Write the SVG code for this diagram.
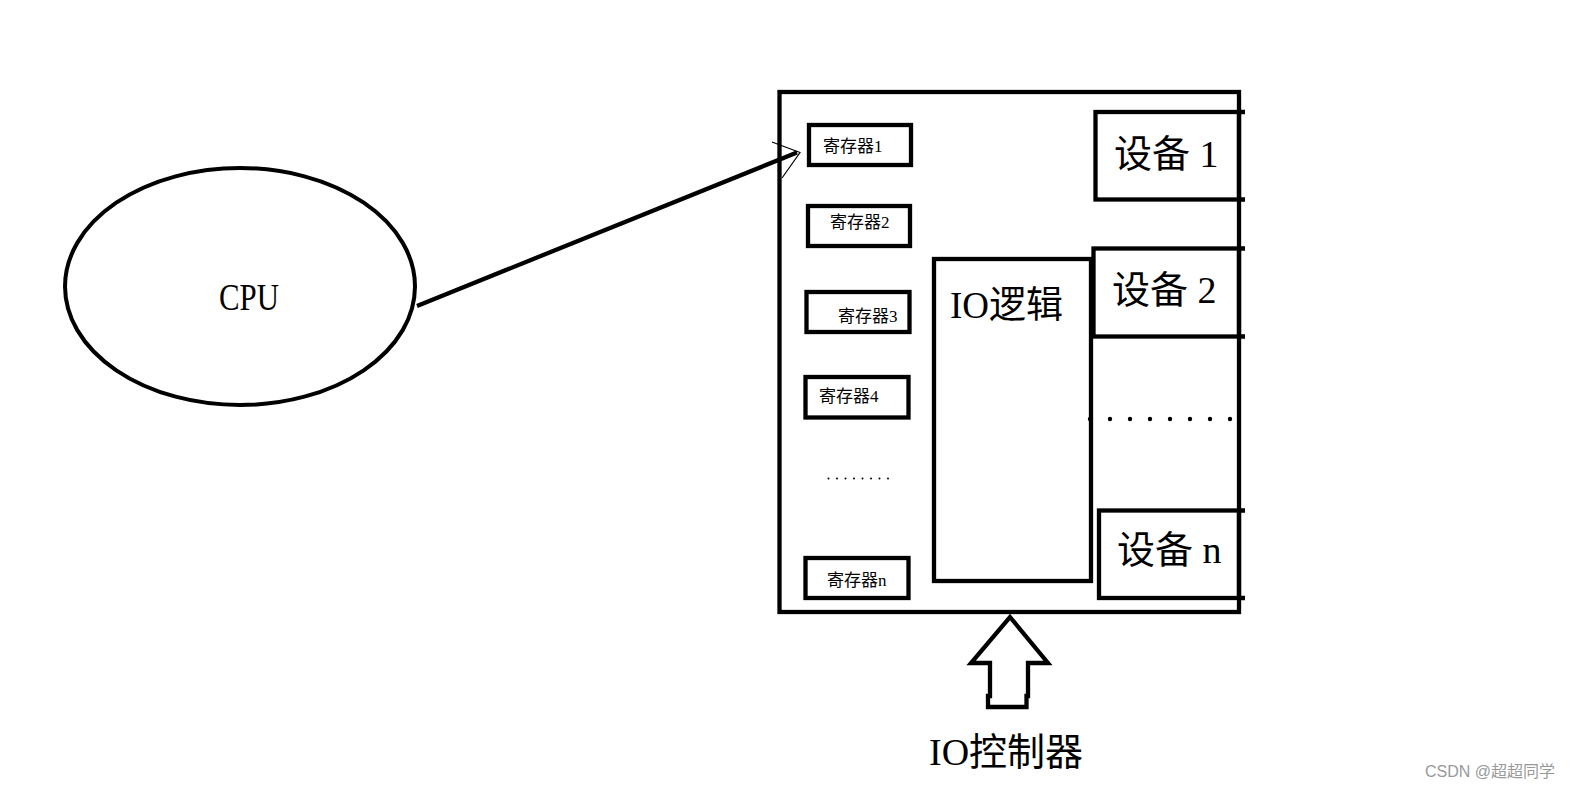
<svg xmlns="http://www.w3.org/2000/svg" width="1576" height="790" viewBox="0 0 1576 790">
<style>
.box{fill:none;stroke:#000;stroke-width:4.3}
.t{font-family:"Liberation Serif","Noto Sans CJK SC",serif;fill:#000}
.reg{font-size:17px}
.dev{font-size:38px}
.big{font-size:37px}
.wm{font-family:"Liberation Sans","Noto Sans CJK SC",sans-serif;font-size:16px;fill:#999}
</style>
<rect width="1576" height="790" fill="#fff"/>
<g id="cpu">
<ellipse cx="240" cy="286.5" rx="175" ry="118.5" fill="none" stroke="#000" stroke-width="4"/>
<text class="t" x="219" y="310" font-size="38" textLength="60" lengthAdjust="spacingAndGlyphs">CPU</text>
</g>
<g id="io-controller">
<rect class="box" x="779.5" y="92" width="459.5" height="520"/>
</g>
<g id="reg1"><rect class="box" x="809" y="125" width="102" height="40"/><text class="t reg" x="823" y="152">寄存器1</text></g>
<g id="reg2"><rect class="box" x="808" y="206" width="102" height="40"/><text class="t reg" x="830" y="228">寄存器2</text></g>
<g id="reg3"><rect class="box" x="806.5" y="292" width="103" height="40"/><text class="t reg" x="838" y="321.5">寄存器3</text></g>
<g id="reg4"><rect class="box" x="805.5" y="377" width="103" height="40.5"/><text class="t reg" x="819" y="402">寄存器4</text></g>
<g id="reg-dots" fill="#000">
<circle cx="828.5" cy="478.5" r="1"/><circle cx="837" cy="478.5" r="1"/><circle cx="845.5" cy="478.5" r="1"/><circle cx="854" cy="478.5" r="1"/><circle cx="862.5" cy="478.5" r="1"/><circle cx="871" cy="478.5" r="1"/><circle cx="879.5" cy="478.5" r="1"/><circle cx="888" cy="478.5" r="1"/>
</g>
<g id="regn"><rect class="box" x="805.5" y="558" width="103" height="40"/><text class="t reg" x="827" y="585.5">寄存器n</text></g>
<g id="io-logic"><rect class="box" x="934" y="259" width="157" height="322"/><text class="t big" x="950" y="318">IO逻辑</text></g>
<g id="dev1">
<rect class="box" x="1095.5" y="112" width="143.5" height="87.5"/>
<path class="box" d="M1239 112H1245M1239 199.5H1245"/>
<text class="t dev" x="1114" y="166.5">设备 1</text>
</g>
<g id="dev2">
<rect class="box" x="1093.5" y="248.5" width="145.5" height="88"/>
<path class="box" d="M1239 248.5H1245M1239 336.5H1245"/>
<text class="t dev" x="1112" y="303">设备 2</text>
</g>
<g id="dev-dots" fill="#000">
<circle cx="1090" cy="419" r="2.2"/><circle cx="1110" cy="419" r="2.2"/><circle cx="1130" cy="419" r="2.2"/><circle cx="1150" cy="419" r="2.2"/><circle cx="1170" cy="419" r="2.2"/><circle cx="1190" cy="419" r="2.2"/><circle cx="1210" cy="419" r="2.2"/><circle cx="1230" cy="419" r="2.2"/>
</g>
<g id="devn">
<rect class="box" x="1099" y="510.5" width="140" height="87.5"/>
<path class="box" d="M1239 510.5H1245M1239 598H1245"/>
<text class="t dev" x="1117" y="563">设备 n</text>
</g>
<g id="connectors">
<line x1="417" y1="306" x2="797" y2="152.5" stroke="#000" stroke-width="4.3"/>
<polyline points="772,142 800,152.5 782,178" fill="none" stroke="#000" stroke-width="1.2"/>
<polygon points="1010,617 1048,663 1028,663 1028,696 1026.5,696 1026.5,707 988,707 988,696 990,696 990,663 971,663" fill="none" stroke="#000" stroke-width="4.3" stroke-linejoin="miter"/>
</g>
<g id="label-io-controller"><text class="t" x="929" y="765" font-size="38">IO控制器</text></g>
<g id="watermark"><text class="wm" x="1425" y="776.5">CSDN @超超同学</text></g>
</svg>
